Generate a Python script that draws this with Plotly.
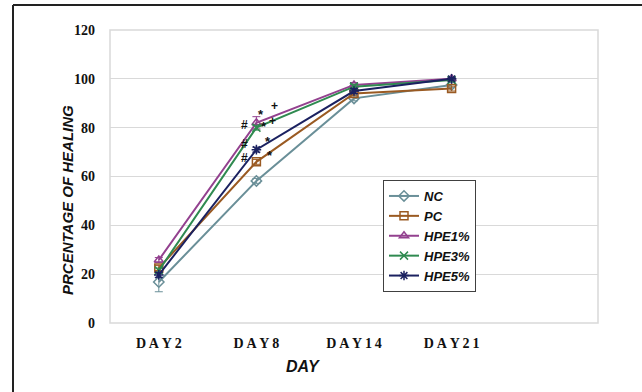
import plotly.graph_objects as go

days = ["DAY2", "DAY8", "DAY14", "DAY21"]
x_pos = [0, 1, 2, 3]

series_names = ["NC", "PC", "HPE1%", "HPE3%", "HPE5%"]
nc = [16.8, 58.2, 92.0, 97.5]
pc = [22.5, 66.0, 94.0, 96.0]
hpe1 = [25.8, 82.0, 97.5, 100.0]
hpe3 = [21.5, 80.0, 96.8, 99.5]
hpe5 = [19.7, 71.0, 95.0, 100.0]

nc_err = [4.0, 1.0, 1.0, 1.0]
pc_err = [1.0, 1.0, 1.0, 1.0]
hpe1_err = [1.0, 2.5, 1.0, 0.5]
hpe3_err = [1.0, 1.0, 1.0, 0.5]
hpe5_err = [1.0, 1.0, 1.0, 0.5]

sig_text = ["#", "#", "#", "*", "+", "*", "+", "*", "*"]
sig_x = [0.877, 0.877, 0.877, 1.05, 1.185, 1.08, 1.16, 1.12, 1.14]
sig_y = [81.1, 73.4, 67.6, 86.8, 89.0, 81.8, 82.8, 75.4, 69.8]

colors = ["#6A8F98", "#9A5A22", "#93418F", "#2F8A50", "#1B2160"]
symbols = ["diamond-open", "square-open", "triangle-up-open", "x-thin-open", "asterisk-open"]
values = [nc, pc, hpe1, hpe3, hpe5]
errors = [nc_err, pc_err, hpe1_err, hpe3_err, hpe5_err]

PL, PR, PT, PB = 110, 598, 30, 323  # plot area in page pixels
PW, PH = PR - PL, PB - PT

fig = go.Figure()
for name, vals, err, col, sym in zip(series_names, values, errors, colors, symbols):
    fig.add_trace(go.Scatter(
        x=x_pos, y=vals, name=name, mode="lines+markers",
        line=dict(color=col, width=2),
        marker=dict(symbol=sym, size=8, color=col, line=dict(color=col, width=1.5)),
        error_y=dict(type="data", array=err, color=col, thickness=1, width=4),
    ))

for t, xx, yy in zip(sig_text, sig_x, sig_y):
    star = (t == "*")
    fig.add_annotation(x=xx, y=yy, text=t, showarrow=False, borderpad=0,
                       font=dict(family="Liberation Sans", size=(13 if star else 12),
                                 color="#111111", weight="bold"),
                       yshift=(-3 if star else 0))

tick_text = ["\u2009".join(list(d)) for d in days]

def px_x(p):
    return (p - PL) / PW

def px_y(p):
    return (PB - p) / PH

fig.update_layout(
    width=642, height=392,
    margin=dict(l=PL, r=642 - PR, t=PT, b=392 - PB),
    paper_bgcolor="white", plot_bgcolor="white",
    showlegend=True,
    legend=dict(
        x=px_x(383), y=px_y(180), xanchor="left", yanchor="top",
        bordercolor="#404040", borderwidth=1, bgcolor="white",
        font=dict(family="Liberation Sans", size=13, color="#111111", weight="bold", style="italic"),
        itemwidth=30, tracegroupgap=0,
    ),
    xaxis=dict(
        range=[-0.5, 4.5], tickvals=x_pos, ticktext=tick_text,
        showgrid=False, zeroline=False, showline=False, ticks="",
        ticklabelstandoff=10,
        tickfont=dict(family="Liberation Serif", size=14, color="#111111", weight="bold"),
    ),
    yaxis=dict(
        range=[0, 120], tickvals=[0, 20, 40, 60, 80, 100, 120],
        showgrid=True, gridcolor="#D9D9D9", gridwidth=1,
        zeroline=False, showline=False, ticks="",
        ticklabelstandoff=14,
        tickfont=dict(family="Liberation Serif", size=14, color="#111111", weight="bold"),
    ),
    annotations=list(fig.layout.annotations) + [
        dict(xref="paper", yref="paper", x=px_x(303), y=px_y(366),
             xanchor="center", yanchor="middle",
             text="DAY", showarrow=False,
             font=dict(family="Liberation Sans", size=16, color="#111111", weight="bold", style="italic")),
        dict(xref="paper", yref="paper", x=px_x(67), y=px_y(200),
             xanchor="center", yanchor="middle",
             text="PRCENTAGE OF HEALING", showarrow=False, textangle=-90,
             font=dict(family="Liberation Sans", size=15, color="#111111", weight="bold", style="italic")),
    ],
    shapes=[
        dict(type="rect", xref="paper", yref="paper", x0=0, x1=1, y0=0, y1=1,
             line=dict(color="#D9D9D9", width=1.5), layer="below"),
        dict(type="line", xref="paper", yref="paper",
             x0=px_x(13), x1=px_x(13), y0=px_y(5), y1=px_y(420),
             line=dict(color="#222222", width=2)),
        dict(type="line", xref="paper", yref="paper",
             x0=px_x(13), x1=px_x(660), y0=px_y(5), y1=px_y(5),
             line=dict(color="#222222", width=2)),
    ],
)

fig.write_html("out.html",
               config={"displayModeBar": False},
               post_script="document.body.style.margin='0';document.body.style.padding='0';")
